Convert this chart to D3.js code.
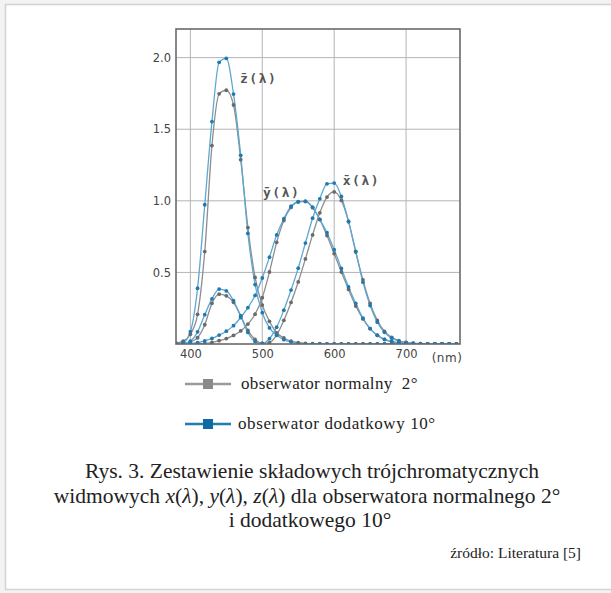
<!DOCTYPE html>
<html>
<head>
<meta charset="utf-8">
<script src="https://cdn.jsdelivr.net/npm/d3@7"></script>
<style>
  body { margin: 0; background: #f3f3f3; }
  svg { display: block; }
</style>
</head>
<body>
<script>
// dlugosci fali (nm), co 10 nm
var wavelengths = [380,390,400,410,420,430,440,450,460,470,480,490,500,510,520,530,540,550,560,570,
  580,590,600,610,620,630,640,650,660,670,680,690,700,710,720,730,740,750,760,770,780];

// obserwator normalny 2°
var x2 = [0.0014,0.0042,0.0143,0.0435,0.1344,0.2839,0.3483,0.3362,0.2908,0.1954,0.0956,0.0320,0.0049,0.0093,
  0.0633,0.1655,0.2904,0.4334,0.5945,0.7621,0.9163,1.0263,1.0622,1.0026,0.8544,0.6424,0.4479,0.2835,0.1649,
  0.0874,0.0468,0.0227,0.0114,0.0058,0.0029,0.0014,0.0007,0.0003,0.0002,0.0001,0.0000];
var y2 = [0.0000,0.0001,0.0004,0.0012,0.0040,0.0116,0.0230,0.0380,0.0600,0.0910,0.1390,0.2080,0.3230,0.5030,
  0.7100,0.8620,0.9540,0.9950,0.9950,0.9520,0.8700,0.7570,0.6310,0.5030,0.3810,0.2650,0.1750,0.1070,0.0610,
  0.0320,0.0170,0.0082,0.0041,0.0021,0.0010,0.0005,0.0002,0.0001,0.0001,0.0000,0.0000];
var z2 = [0.0065,0.0201,0.0679,0.2074,0.6456,1.3856,1.7471,1.7721,1.6692,1.2876,0.8130,0.4652,0.2720,0.1582,
  0.0783,0.0422,0.0203,0.0088,0.0039,0.0021,0.0017,0.0011,0.0008,0.0003,0.0002,0.0000,0.0000,0.0000,0.0000,
  0.0000,0.0000,0.0000,0.0000,0.0000,0.0000,0.0000,0.0000,0.0000,0.0000,0.0000,0.0000];

// obserwator dodatkowy 10°
var x10 = [0.0002,0.0024,0.0191,0.0847,0.2045,0.3147,0.3837,0.3707,0.3023,0.1956,0.0805,0.0162,0.0038,0.0375,
  0.1177,0.2365,0.3768,0.5298,0.7052,0.8787,1.0142,1.1185,1.1240,1.0305,0.8563,0.6475,0.4316,0.2683,0.1526,
  0.0813,0.0409,0.0199,0.0096,0.0046,0.0022,0.0010,0.0005,0.0003,0.0001,0.0001,0.0000];
var y10 = [0.0000,0.0003,0.0020,0.0088,0.0214,0.0387,0.0621,0.0895,0.1282,0.1852,0.2536,0.3391,0.4608,0.6067,
  0.7618,0.8752,0.9620,0.9918,0.9973,0.9556,0.8689,0.7774,0.6583,0.5280,0.3981,0.2835,0.1798,0.1076,0.0603,
  0.0318,0.0159,0.0077,0.0037,0.0018,0.0008,0.0004,0.0002,0.0001,0.0001,0.0000,0.0000];
var z10 = [0.0007,0.0105,0.0860,0.3894,0.9725,1.5535,1.9673,1.9948,1.7454,1.3176,0.7721,0.4153,0.2185,0.1120,
  0.0607,0.0305,0.0137,0.0040,0.0000,0.0000,0.0000,0.0000,0.0000,0.0000,0.0000,0.0000,0.0000,0.0000,0.0000,
  0.0000,0.0000,0.0000,0.0000,0.0000,0.0000,0.0000,0.0000,0.0000,0.0000,0.0000,0.0000];

var xTicks = [400, 500, 600, 700];
var yTicks = [0.5, 1.0, 1.5, 2.0];

var curveLabels = [
  {text: "z\u0304(\u03bb)", nm: 469, v: 1.82},
  {text: "y\u0304(\u03bb)", nm: 501, v: 1.03},
  {text: "x\u0304(\u03bb)", nm: 612, v: 1.11}
];

var legendItems = [
  {text: "obserwator normalny  2°", line: "#9a9a9a", mark: "#8a8a8a"},
  {text: "obserwator dodatkowy 10°", line: "#1f7bb0", mark: "#0d6aa2"}
];

var W = 611, H = 593;
var plot = {left: 176, right: 460, top: 29, bottom: 344};

var svg = d3.select("body").append("svg")
    .attr("width", W)
    .attr("height", H);

// ramka strony
svg.append("rect")
    .attr("x", 5.5).attr("y", 4.5)
    .attr("width", W + 10).attr("height", 585)
    .style("fill", "white")
    .style("stroke", "#d2d2d2")
    .style("stroke-width", 1.5);

var x = d3.scaleLinear().domain([380, 775]).range([plot.left, plot.right]);
var y = d3.scaleLinear().domain([0, 2.2]).range([plot.bottom, plot.top]);

var chart = svg.append("g");

// siatka
chart.selectAll(".vgrid").data(xTicks).enter().append("line")
    .attr("x1", function(d) { return x(d); })
    .attr("x2", function(d) { return x(d); })
    .attr("y1", plot.top).attr("y2", plot.bottom)
    .style("stroke", "#b4b4b4").style("stroke-width", 1);
chart.selectAll(".hgrid").data(yTicks).enter().append("line")
    .attr("x1", plot.left).attr("x2", plot.right)
    .attr("y1", function(d) { return y(d); })
    .attr("y2", function(d) { return y(d); })
    .style("stroke", "#b4b4b4").style("stroke-width", 1);

// osie
var xAxis = d3.axisBottom(x).tickValues(xTicks).tickSize(0).tickPadding(6)
    .tickFormat(d3.format("d"));
var yAxis = d3.axisLeft(y).tickValues(yTicks).tickSize(0).tickPadding(5)
    .tickFormat(d3.format(".1f"));

chart.append("g")
    .attr("transform", "translate(0," + plot.bottom + ")")
    .call(xAxis)
    .call(function(g) { g.select(".domain").remove(); })
    .selectAll("text")
    .style("font-family", "DejaVu Sans, sans-serif")
    .style("font-size", "11.5px")
    .style("fill", "#444");

chart.append("g")
    .attr("transform", "translate(" + plot.left + ",0)")
    .call(yAxis)
    .call(function(g) { g.select(".domain").remove(); })
    .selectAll("text")
    .style("font-family", "DejaVu Sans, sans-serif")
    .style("font-size", "11.5px")
    .style("fill", "#444");

chart.append("text")
    .attr("x", 447).attr("y", plot.bottom + 17.5)
    .attr("text-anchor", "middle")
    .style("font-family", "DejaVu Sans, sans-serif")
    .style("font-size", "12px")
    .style("letter-spacing", "0.5px")
    .style("fill", "#444")
    .text("(nm)");

// krzywe
var series = [
  {vals: x2, line: "#8e8e8e", mark: "#6a6a6a"},
  {vals: y2, line: "#8e8e8e", mark: "#6a6a6a"},
  {vals: z2, line: "#8e8e8e", mark: "#6a6a6a"},
  {vals: x10, line: "#5da7d2", mark: "#1f7ab2"},
  {vals: y10, line: "#5da7d2", mark: "#1f7ab2"},
  {vals: z10, line: "#5da7d2", mark: "#1f7ab2"}
];

chart.append("clipPath").attr("id", "clip")
    .append("rect")
    .attr("x", plot.left).attr("y", plot.top - 5)
    .attr("width", plot.right - plot.left).attr("height", plot.bottom - plot.top + 5);

var curves = chart.append("g").attr("clip-path", "url(#clip)");

var line = d3.line()
    .x(function(d, i) { return x(wavelengths[i]); })
    .y(function(d) { return y(d); })
    .curve(d3.curveMonotoneX);

series.forEach(function(s) {
    curves.append("path")
        .datum(s.vals)
        .attr("d", line)
        .style("fill", "none")
        .style("stroke", s.line)
        .style("stroke-width", 1.3);
});
series.forEach(function(s) {
    curves.selectAll(null).data(s.vals).enter().append("circle")
        .attr("cx", function(d, i) { return x(wavelengths[i]); })
        .attr("cy", function(d) { return y(d); })
        .attr("r", 1.9)
        .style("fill", s.mark);
});

// ramka wykresu
chart.append("rect")
    .attr("x", plot.left).attr("y", plot.top)
    .attr("width", plot.right - plot.left).attr("height", plot.bottom - plot.top)
    .style("fill", "none")
    .style("stroke", "#6a6a6a")
    .style("stroke-width", 1.6);

// etykiety krzywych
chart.selectAll(".clabel").data(curveLabels).enter().append("text")
    .attr("x", function(d) { return x(d.nm); })
    .attr("y", function(d) { return y(d.v); })
    .style("font-family", "DejaVu Sans Mono, monospace")
    .style("font-weight", "bold")
    .style("font-size", "13px")
    .style("letter-spacing", "1.5px")
    .style("fill", "#555")
    .text(function(d) { return d.text; });

// legenda
var legend = svg.selectAll(".legend").data(legendItems).enter().append("g")
    .attr("transform", function(d, i) { return "translate(185," + (384 + i * 40) + ")"; });
legend.append("line")
    .attr("x1", 0).attr("x2", 46)
    .style("stroke", function(d) { return d.line; })
    .style("stroke-width", 2.5);
legend.append("rect")
    .attr("x", 18).attr("y", -5).attr("width", 10).attr("height", 10)
    .style("fill", function(d) { return d.mark; });
legend.append("text")
    .attr("x", function(d, i) { return i === 0 ? 56 : 53; })
    .attr("y", 5)
    .style("white-space", "pre")
    .style("font-family", "Liberation Serif, serif")
    .style("font-size", "17px")
    .style("letter-spacing", function(d, i) { return i === 0 ? "0.35px" : "0.6px"; })
    .style("fill", "#222")
    .text(function(d) { return d.text; });

// podpis
var caption = [
  "Rys. 3. Zestawienie składowych trójchromatycznych",
  null,
  "i dodatkowego 10°"
];
var cap = svg.append("g")
    .style("font-family", "Liberation Serif, serif")
    .style("font-size", "21.5px")
    .style("fill", "#222")
    .attr("text-anchor", "middle");
cap.append("text").attr("x", 312).attr("y", 478).text(caption[0]);
var l2 = cap.append("text").attr("x", 307).attr("y", 503);
l2.append("tspan").text("widmowych ");
l2.append("tspan").style("font-style", "italic").text("x");
l2.append("tspan").text("(");
l2.append("tspan").style("font-style", "italic").text("λ");
l2.append("tspan").text("), ");
l2.append("tspan").style("font-style", "italic").text("y");
l2.append("tspan").text("(");
l2.append("tspan").style("font-style", "italic").text("λ");
l2.append("tspan").text("), ");
l2.append("tspan").style("font-style", "italic").text("z");
l2.append("tspan").text("(");
l2.append("tspan").style("font-style", "italic").text("λ");
l2.append("tspan").text(") dla obserwatora normalnego 2°");
cap.append("text").attr("x", 310).attr("y", 527).text(caption[2]);

svg.append("text")
    .attr("x", 581).attr("y", 558)
    .attr("text-anchor", "end")
    .style("font-family", "Liberation Serif, serif")
    .style("font-size", "15.5px")
    .style("fill", "#222")
    .text("źródło: Literatura [5]");
</script>
</body>
</html>
